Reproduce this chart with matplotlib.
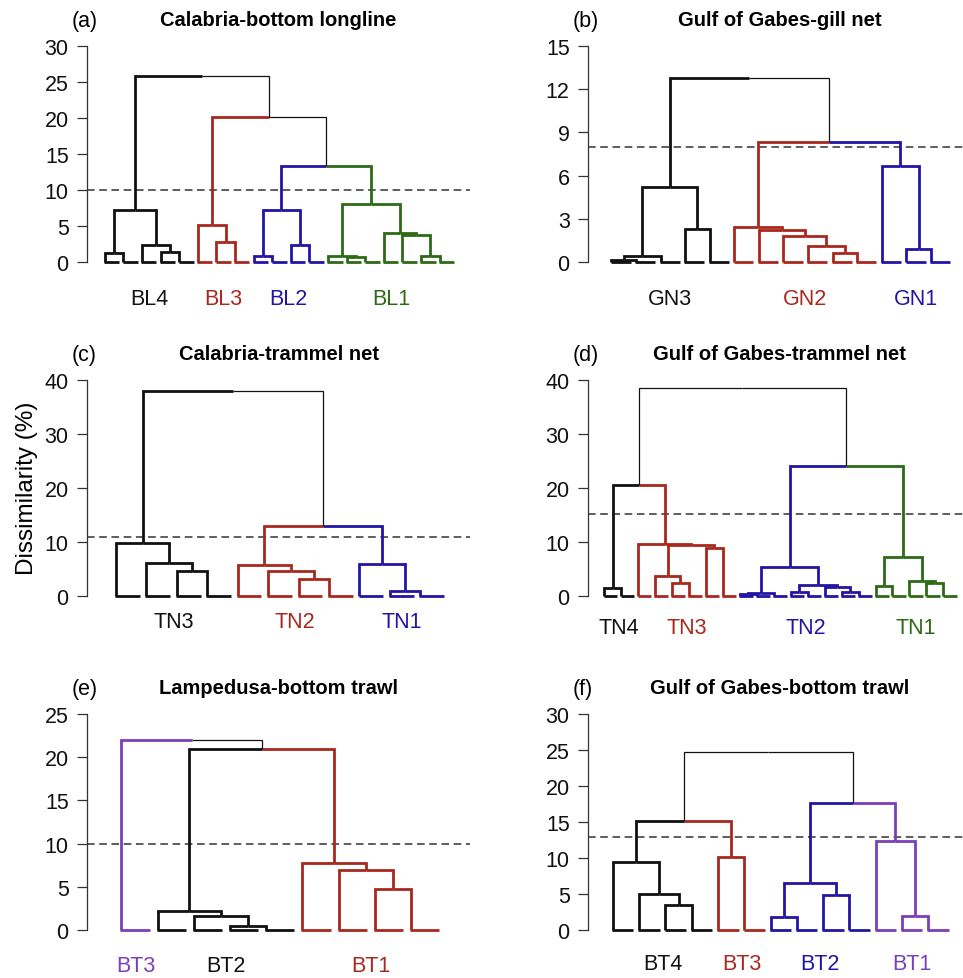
import matplotlib
matplotlib.use('Agg')
import matplotlib.pyplot as plt

plt.rcParams['font.family'] = ['Liberation Sans', 'DejaVu Sans']

BLACK = '#111111'
RED = '#a8281e'
BLUE = '#2215a5'
GREEN = '#2d6a16'
PURPLE = '#7b3fb8'

# trees: a node is [left, right, height], a leaf is 0
# (a) Calabria-bottom longline
BL4 = [[0, 0, 1.2], [0, [0, 0, 1.4], 2.4], 7.2]
BL3 = [0, [0, 0, 2.8], 5.2]
BL2 = [[0, 0, 0.9], [0, 0, 2.3], 7.2]
BL1 = [[0, [0, 0, 0.7], 0.9], [0, [0, [0, 0, 0.9], 3.7], 4.0], 8.0]
tree_a = [BL4, [BL3, [BL2, BL1, 13.4], 20.2], 25.8]
cut_a = 10.0
names_a = ['BL4', 'BL3', 'BL2', 'BL1']
colors_a = [BLACK, RED, BLUE, GREEN]

# (b) Gulf of Gabes-gill net
GN3 = [[[0, 0, 0.15], 0, 0.4], [0, 0, 2.3], 5.2]
GN2 = [0, [0, [0, [0, [0, 0, 0.6], 1.1], 1.8], 2.2], 2.4]
GN1 = [0, [0, 0, 0.9], 6.7]
tree_b = [GN3, [GN2, GN1, 8.35], 12.8]
cut_b = 8.0
names_b = ['GN3', 'GN2', 'GN1']
colors_b = [BLACK, RED, BLUE]

# (c) Calabria-trammel net
TN3c = [0, [0, [0, 0, 4.6], 6.1], 9.9]
TN2c = [0, [0, [0, 0, 3.1], 4.6], 5.8]
TN1c = [0, [0, 0, 1.0], 5.9]
tree_c = [TN3c, [TN2c, TN1c, 12.9], 37.9]
cut_c = 10.9
names_c = ['TN3', 'TN2', 'TN1']
colors_c = [BLACK, RED, BLUE]

# (d) Gulf of Gabes-trammel net
TN4d = [0, 0, 1.5]
TN3d = [0, [[0, [0, 0, 2.5], 3.7], [0, 0, 8.9], 9.4], 9.7]
TN2d = [[[0, 0, 0.3], 0, 0.6], [[0, 0, 0.7], [0, [0, 0, 0.8], 1.7], 2.0], 5.4]
TN1d = [[0, 0, 1.9], [0, [0, 0, 2.5], 2.7], 7.2]
tree_d = [[TN4d, TN3d, 20.6], [TN2d, TN1d, 24.0], 38.5]
cut_d = 15.2
names_d = ['TN4', 'TN3', 'TN2', 'TN1']
colors_d = [BLACK, RED, BLUE, GREEN]

# (e) Lampedusa-bottom trawl
BT3e = 0
BT2e = [0, [0, [0, 0, 0.45], 1.6], 2.2]
BT1e = [0, [0, [0, 0, 4.8], 7.0], 7.8]
tree_e = [BT3e, [BT2e, BT1e, 20.9], 22.0]
cut_e = 10.0
names_e = ['BT3', 'BT2', 'BT1']
colors_e = [PURPLE, BLACK, RED]

# (f) Gulf of Gabes-bottom trawl
BT4f = [0, [0, [0, 0, 3.5], 5.0], 9.5]
BT3f = [0, 0, 10.2]
BT2f = [[0, 0, 1.8], [0, 0, 4.9], 6.5]
BT1f = [0, [0, 0, 2.0], 12.3]
tree_f = [[BT4f, BT3f, 15.1], [BT2f, BT1f, 17.7], 24.7]
cut_f = 12.9
names_f = ['BT4', 'BT3', 'BT2', 'BT1']
colors_f = [BLACK, RED, BLUE, PURPLE]

# letter, title, tree, cut, ymax, ystep, names, colors, (col, row), label drop px
panels = [
    ('(a)', 'Calabria-bottom longline', tree_a, cut_a, 30, 5, names_a, colors_a, (0, 0), 37),
    ('(b)', 'Gulf of Gabes-gill net', tree_b, cut_b, 15, 3, names_b, colors_b, (1, 0), 37),
    ('(c)', 'Calabria-trammel net', tree_c, cut_c, 40, 10, names_c, colors_c, (0, 1), 25),
    ('(d)', 'Gulf of Gabes-trammel net', tree_d, cut_d, 40, 10, names_d, colors_d, (1, 1), 31),
    ('(e)', 'Lampedusa-bottom trawl', tree_e, cut_e, 25, 5, names_e, colors_e, (0, 2), 36),
    ('(f)', 'Gulf of Gabes-bottom trawl', tree_f, cut_f, 30, 5, names_f, colors_f, (1, 2), 34),
]

W, H = 963, 979
SEG = 0.78  # leaf dash length (leaf units)


def draw_tree(ax, tree, cut, colors):
    leaves = []
    clusters = []

    def walk(node, clu):
        # a node below the cut starts a new coloured cluster
        if clu is None and (node == 0 or node[2] < cut):
            clu = len(clusters)
            clusters.append([])
        if node == 0:
            x = len(leaves)
            leaves.append((x, clu))
            clusters[clu].append(x)
            return x, 0.0, clu
        xl, hl, cl = walk(node[0], clu)
        xr, hr, cr = walk(node[1], clu)
        h = node[2]
        x = (xl + xr) / 2
        for xc, hc, cc in [(xl, hl, cl), (xr, hr, cr)]:
            if cc is None:
                col, lw = BLACK, 0.9
            else:
                col, lw = colors[cc], 2.0
            ax.plot([xc, xc, x], [hc, h, h], color=col, lw=lw, clip_on=False,
                    solid_joinstyle='miter', solid_capstyle='butt')
        return x, h, clu

    walk(tree, None)
    for x, c in leaves:
        ax.plot([x - 0.03, x + SEG], [0, 0], color=colors[c], lw=2.0, clip_on=False,
                solid_capstyle='butt')
    return leaves, clusters


fig = plt.figure(figsize=(W / 100, H / 100), dpi=100)

col_left = [87, 588]
row_zero = [263, 597, 931]
ax_w, ax_h = 383, 216

for letter, title, tree, cut, ymax, ystep, names, colors, (ci, ri), drop in panels:
    left = col_left[ci]
    bottom = H - row_zero[ri]
    ax = fig.add_axes([left / W, bottom / H, ax_w / W, ax_h / H])
    leaves, clusters = draw_tree(ax, tree, cut, colors)
    n = len(leaves)

    ax.axhline(cut, color='#333333', lw=1.1, ls=(0, (5, 3)), zorder=0)

    ax.set_xlim(-0.95, n - 0.22 + 0.85)
    ax.set_ylim(0, ymax)
    ax.set_yticks(range(0, ymax + 1, ystep))
    ax.set_xticks([])
    for s in ['top', 'right', 'bottom']:
        ax.spines[s].set_visible(False)
    ax.spines['left'].set_color('#333333')
    ax.spines['left'].set_linewidth(0.9)
    ax.tick_params(axis='y', length=7.2, width=0.9, pad=6, labelsize=15.5,
                   colors='#333333', labelcolor='#111111')
    ax.patch.set_alpha(0)

    # cluster names under each group
    for k, xs in enumerate(clusters):
        xc = (min(xs) + max(xs) + SEG) / 2
        ax.annotate(names[k], xy=(xc, 0), xytext=(0, -drop), textcoords='offset pixels',
                    ha='center', va='center', fontsize=15.5, color=colors[k])

    ty = 1 + 26 / ax_h
    ax.text(0.5, ty, title, transform=ax.transAxes, ha='center', va='center',
            fontsize=14.5, fontweight='bold')
    ax.text(-15 / ax_w, ty, letter, transform=ax.transAxes, ha='left', va='center',
            fontsize=15.5)

fig.text(27 / W, 1 - 488 / H, 'Dissimilarity (%)', rotation=90, ha='center', va='center',
         fontsize=17.5)

plt.savefig('out.png', dpi=100)
